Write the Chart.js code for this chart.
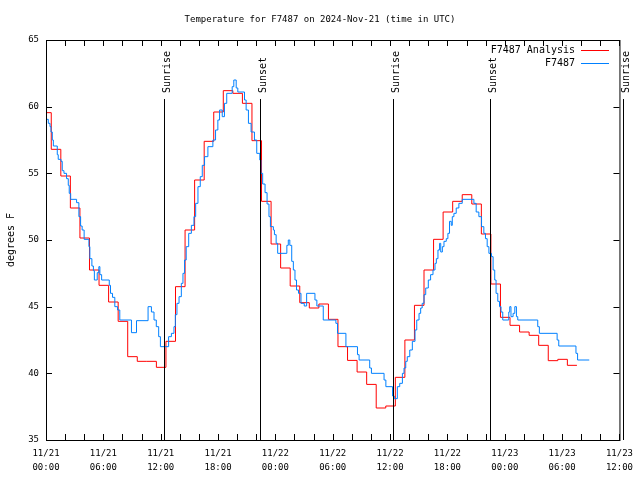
<!DOCTYPE html>
<html>
<head>
<meta charset="utf-8">
<script src="https://cdn.jsdelivr.net/npm/chart.js@4"></script>
<style>
  html, body { margin: 0; padding: 0; background: #fff; }
  #wrap { width: 640px; height: 480px; }
</style>
</head>
<body>
<div id="wrap"><canvas id="chart" width="640" height="480"></canvas></div>
<script>
const chartTitle = "Temperature for F7487 on 2024-Nov-21 (time in UTC)";
const yTitle = "degrees F";

// x axis: hours since 11/21 00:00 UTC
const xTickHours = [0, 6, 12, 18, 24, 30, 36, 42, 48, 54, 60];
const xTickDates = ["11/21", "11/21", "11/21", "11/21", "11/22", "11/22", "11/22", "11/22", "11/23", "11/23", "11/23"];
const xTickTimes = ["00:00", "06:00", "12:00", "18:00", "00:00", "06:00", "12:00", "18:00", "00:00", "06:00", "12:00"];

const sunHours = [12.34, 22.4, 36.35, 46.47, 60.35];
const sunLabels = ["Sunrise", "Sunset", "Sunrise", "Sunset", "Sunrise"];

// F7487 Analysis (hourly, red)
const analysisValues = [
  59.55, 56.8, 54.8, 52.4, 50.15, 47.75, 46.6, 45.35, 43.9, 41.25,
  40.9, 40.9, 40.45, 42.4, 46.5, 50.75, 54.5, 57.4, 59.6, 61.2,
  61.0, 60.25, 57.45, 52.9, 49.7, 47.9, 46.55, 45.3, 44.9, 45.2,
  44.05, 42.0, 40.97, 40.1, 39.17, 37.4, 37.55, 39.7, 42.5, 45.1,
  47.75, 50.05, 52.1, 52.9, 53.4, 52.7, 50.45, 46.7, 44.2, 43.6,
  43.1, 42.85, 42.1, 40.95, 41.05, 40.6, 40.6
];
const analysisHours = analysisValues.map((_, i) => (i === 0 ? 0 : i - 0.45));

// F7487 observations (blue)
const obsHours = [
  0, 0.24, 0.42, 0.52, 0.66, 0.77, 1.18, 1.28, 1.57, 1.7,
  1.88, 2.15, 2.33, 2.43, 2.58, 3.2, 3.44, 3.62, 3.78, 3.99,
  4.49, 4.59, 4.8, 4.96, 5.06, 5.36, 5.53, 5.64, 5.82, 6.62,
  6.75, 6.96, 7.2, 7.49, 7.72, 8.94, 9.47, 10.68, 11.03, 11.3,
  11.54, 11.79, 11.97, 12.83, 13.12, 13.39, 13.53, 13.7, 13.92, 14.16,
  14.33, 14.5, 14.67, 14.93, 15.21, 15.48, 15.66, 15.9, 16.14, 16.35,
  16.59, 16.94, 17.46, 17.74, 17.98, 18.16, 18.44, 18.67, 18.91, 19.48,
  19.65, 19.9, 20.07, 20.77, 20.94, 21.18, 21.46, 21.81, 22.05, 22.37,
  22.49, 22.67, 22.92, 23.13, 23.33, 23.48, 23.79, 23.9, 24.08, 24.24,
  25.2, 25.35, 25.51, 25.71, 25.88, 26.05, 26.21, 26.42, 26.68, 27.02,
  27.27, 28.14, 28.34, 29.01, 30.33, 30.5, 31.38, 32.59, 32.76, 33.87,
  34.05, 35.37, 35.56, 36.26, 36.44, 36.76, 37.01, 37.29, 37.46, 37.64,
  37.8, 38.06, 38.33, 38.61, 38.79, 39.03, 39.2, 39.36, 39.55, 39.73,
  40.0, 40.24, 40.49, 40.7, 40.84, 41.01, 41.18, 41.3, 41.47, 41.64,
  41.88, 42.05, 42.22, 42.4, 42.51, 42.68, 42.92, 43.2, 43.55, 44.77,
  45.01, 45.29, 45.57, 45.81, 45.98, 46.16, 46.34, 46.61, 46.78, 46.95,
  47.09, 47.27, 47.45, 47.61, 47.79, 48.42, 48.52, 48.65, 48.87, 49.05,
  49.22, 49.36, 51.45, 51.62, 53.48, 53.65, 55.45, 55.62, 56.84
];
const obsValues = [
  59.05, 58.75, 58.5, 58.1, 57.5, 57.05, 56.4, 56.05, 55.9, 55.2,
  55.0, 54.6, 54.1, 53.5, 53.05, 52.8, 51.75, 51.05, 50.75, 50.05,
  49.5, 48.6, 48.05, 47.7, 47.0, 47.55, 48.0, 47.4, 47.0, 46.6,
  46.0, 45.7, 45.0, 44.75, 44.0, 43.05, 43.95, 45.0, 44.6, 44.0,
  43.5, 42.75, 42.0, 42.75, 43.0, 43.5, 44.4, 45.25, 45.75, 46.75,
  47.5, 48.5, 49.5, 50.5, 51.1, 51.75, 52.75, 54.0, 54.75, 55.6,
  56.25, 57.0, 57.5, 58.25, 59.0, 59.75, 59.25, 60.25, 61.0, 61.5,
  62.0, 61.4, 61.1, 60.5, 59.75, 58.75, 58.1, 57.5, 56.5, 56.0,
  55.0, 54.2, 53.55, 52.7, 51.75, 51.0, 50.75, 50.4, 49.75, 49.0,
  49.6, 50.0, 49.6, 48.4, 47.75, 47.0, 46.25, 46.0, 45.25, 45.05,
  46.0, 45.5, 45.05, 44.0, 43.75, 43.0, 42.0, 41.4, 41.0, 40.4,
  40.0, 39.5, 39.0, 38.3, 38.1, 39.0, 39.25, 40.0, 40.4, 40.9,
  41.25, 41.75, 42.4, 43.25, 44.0, 44.5, 44.9, 45.25, 45.9, 46.4,
  47.0, 47.4, 47.75, 48.25, 48.6, 49.25, 49.75, 49.1, 49.5, 49.9,
  50.1, 50.5, 51.4, 51.1, 51.75, 52.0, 52.4, 52.75, 53.05, 52.75,
  52.1, 51.75, 51.0, 50.5, 50.1, 49.5, 49.0, 48.75, 47.75, 47.0,
  46.0, 45.4, 45.0, 44.6, 44.0, 44.6, 45.0, 44.25, 44.5, 45.0,
  44.25, 44.0, 43.5, 43.0, 42.5, 42.05, 41.5, 41.0, 41.0
];

const FONT = "'DejaVu Sans Mono', 'Liberation Mono', monospace";
const RED = "#ff0000";
const BLUE = "#0080ff";

// gnuplot look: frame, inward ticks, sun lines, legend, titles
const gnuplotFrame = {
  id: "gnuplotFrame",
  afterDatasetsDraw(chart) {
    const { ctx, chartArea: a, scales } = chart;
    const x = scales.x, y = scales.y;
    ctx.save();
    ctx.strokeStyle = "#000";
    ctx.lineWidth = 1;

    // sunrise / sunset lines
    sunHours.forEach((h, i) => {
      const px = Math.round(x.getPixelForValue(h)) + 0.5;
      ctx.beginPath();
      ctx.moveTo(px, 99);
      ctx.lineTo(px, a.bottom);
      ctx.stroke();
      ctx.save();
      ctx.translate(px + 3, 93);
      ctx.rotate(-Math.PI / 2);
      ctx.fillStyle = "#000";
      ctx.font = "10px " + FONT;
      ctx.textAlign = "left";
      ctx.textBaseline = "middle";
      ctx.fillText(sunLabels[i], 0, 0);
      ctx.restore();
    });

    // frame
    ctx.strokeRect(a.left + 0.5, a.top + 0.5, a.right - a.left, a.bottom - a.top);

    // ticks, every 2 hours on x, each y tick
    ctx.beginPath();
    for (let h = 0; h <= 60; h += 2) {
      const px = Math.round(x.getPixelForValue(h)) + 0.5;
      ctx.moveTo(px, a.bottom);
      ctx.lineTo(px, a.bottom - 6);
      ctx.moveTo(px, a.top);
      ctx.lineTo(px, a.top + 6);
    }
    y.ticks.forEach((t) => {
      const py = Math.round(y.getPixelForValue(t.value)) + 0.5;
      ctx.moveTo(a.left, py);
      ctx.lineTo(a.left + 6, py);
      ctx.moveTo(a.right, py);
      ctx.lineTo(a.right - 6, py);
    });
    ctx.stroke();

    // legend
    ctx.fillStyle = "#000";
    ctx.font = "10px " + FONT;
    ctx.textAlign = "right";
    ctx.textBaseline = "middle";
    const legend = [
      { text: "F7487 Analysis", color: RED, y: 50 },
      { text: "F7487", color: BLUE, y: 63 },
    ];
    legend.forEach((l) => {
      ctx.fillText(l.text, 575, l.y);
      ctx.strokeStyle = l.color;
      ctx.beginPath();
      ctx.moveTo(581, l.y + 0.5);
      ctx.lineTo(609, l.y + 0.5);
      ctx.stroke();
    });

    // titles
    ctx.fillStyle = "#000";
    ctx.font = "9px " + FONT;
    ctx.textAlign = "center";
    ctx.fillText(chartTitle, 320, 20);
    ctx.save();
    ctx.translate(11, 240);
    ctx.rotate(-Math.PI / 2);
    ctx.font = "10px " + FONT;
    ctx.fillText(yTitle, 0, 0);
    ctx.restore();
    ctx.restore();
  },
};

new Chart(document.getElementById("chart"), {
  type: "line",
  data: {
    datasets: [
      {
        label: "F7487",
        data: obsHours.map((h, i) => ({ x: h, y: obsValues[i] })),
        borderColor: BLUE,
        borderWidth: 1,
        pointRadius: 0,
        stepped: true,
        fill: false,
      },
      {
        label: "F7487 Analysis",
        data: analysisHours.map((h, i) => ({ x: h, y: analysisValues[i] })),
        borderColor: RED,
        borderWidth: 1,
        pointRadius: 0,
        stepped: true,
        fill: false,
      },
    ],
  },
  options: {
    responsive: false,
    animation: false,
    devicePixelRatio: 1,
    layout: { padding: { top: 40, right: 19, left: 0, bottom: 0 } },
    plugins: {
      legend: { display: false },
      title: { display: false },
      tooltip: { enabled: false },
    },
    scales: {
      x: {
        type: "linear",
        min: 0,
        max: 60,
        afterFit: (s) => { s.height = 40; },
        afterBuildTicks: (s) => { s.ticks = xTickHours.map((v) => ({ value: v })); },
        grid: { display: false, drawTicks: false },
        border: { display: false },
        ticks: {
          autoSkip: false,
          maxRotation: 0,
          padding: 7,
          color: "#000",
          font: { family: FONT, size: 9, lineHeight: 1.55 },
          callback: (v) => {
            const i = xTickHours.indexOf(v);
            return i < 0 ? "" : [xTickDates[i], xTickTimes[i]];
          },
        },
      },
      y: {
        min: 35,
        max: 65,
        afterFit: (s) => { s.width = 46; },
        grid: { display: false, drawTicks: false },
        border: { display: false },
        ticks: {
          stepSize: 5,
          padding: 7,
          color: "#000",
          font: { family: FONT, size: 9 },
        },
      },
    },
  },
  plugins: [gnuplotFrame],
});
</script>
</body>
</html>
